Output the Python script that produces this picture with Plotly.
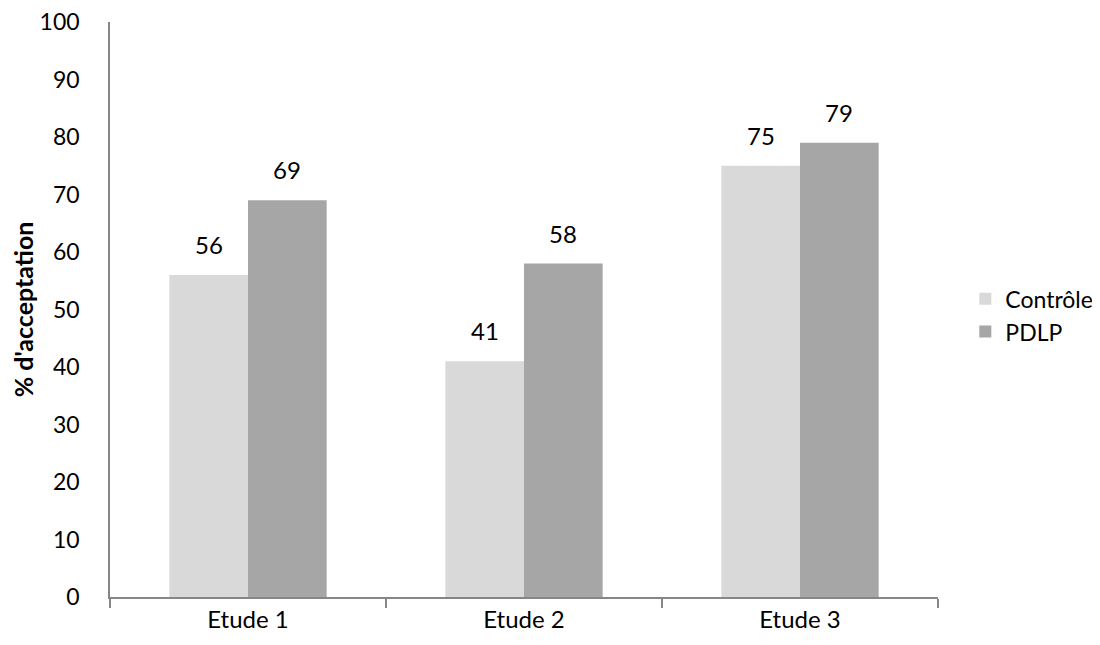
import plotly.graph_objects as go

categories = ["Etude 1", "Etude 2", "Etude 3"]
controle = [56, 41, 75]
pdlp = [69, 58, 79]
series_names = ["Contrôle", "PDLP"]
y_ticks = [0, 10, 20, 30, 40, 50, 60, 70, 80, 90, 100]

FONT = "Lato"
fig = go.Figure()
fig.add_trace(go.Bar(x=categories, y=controle, name=series_names[0],
                     marker=dict(color="#D9D9D9", line=dict(width=0))))
fig.add_trace(go.Bar(x=categories, y=pdlp, name=series_names[1],
                     marker=dict(color="#A6A6A6", line=dict(width=0))))

for vals, shift in ((controle, -39), (pdlp, 39)):
    for c, v in zip(categories, vals):
        fig.add_annotation(x=c, y=v, text=str(v), showarrow=False, xref="x", yref="y",
                           xshift=shift, yanchor="bottom", yshift=14,
                           font=dict(family=FONT, size=24, color="#000000"))

fig.update_layout(
    width=1100, height=645,
    margin=dict(l=102, r=170, t=14, b=56, autoexpand=False),
    paper_bgcolor="white", plot_bgcolor="white",
    barmode="group", bargap=0.43, bargroupgap=0,
    font=dict(family=FONT, size=24, color="#000000"),
    legend=dict(x=1.033, y=0.49, xanchor="left", yanchor="middle",
                font=dict(family=FONT, size=23), tracegroupgap=0,
                itemwidth=30),
    xaxis=dict(showline=True, linecolor="#868686", linewidth=1.5, automargin=False,
               ticks="outside", tickson="boundaries", ticklen=9, tickcolor="#868686",
               tickwidth=1.5, showgrid=False, tickfont=dict(family=FONT, size=24)),
    yaxis=dict(range=[0, 100], tickvals=y_ticks, showline=True, linecolor="#868686",
               linewidth=1.5, showgrid=False, zeroline=False, ticks="", automargin=False,
               ticklabelstandoff=24, ticklabeloverflow="allow",
               tickfont=dict(family=FONT, size=23),
               title=dict(text="<b>% d'acceptation</b>", standoff=17,
                          font=dict(family=FONT, size=25))),
)
fig.write_html("out.html")
